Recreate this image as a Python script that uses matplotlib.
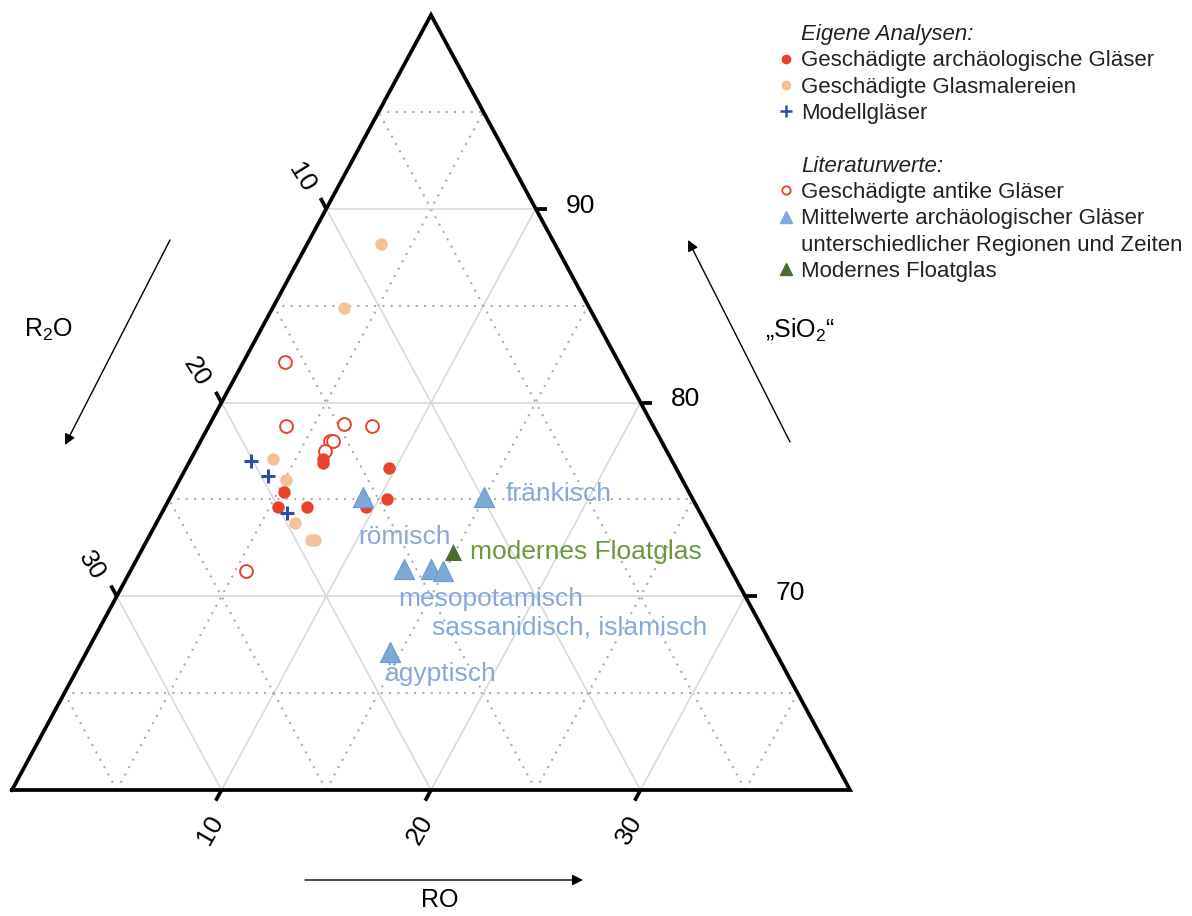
import numpy as np
import matplotlib
matplotlib.use("Agg")
import matplotlib.pyplot as plt
from matplotlib.lines import Line2D

plt.rcParams["font.family"] = ["Liberation Sans", "DejaVu Sans"]
plt.rcParams["mathtext.fontset"] = "custom"
plt.rcParams["mathtext.rm"] = "Liberation Sans"

# compositions in wt% (R2O = 100 - SiO2 - RO)
arch_sio2 = [77.1, 76.9, 76.6, 75.4, 74.6, 74.6, 74.6, 75.0]
arch_ro = [6.3, 6.4, 9.7, 5.3, 5.4, 6.8, 9.6, 10.4]

paint_sio2 = [88.2, 84.9, 77.1, 76.0, 73.8, 72.9, 72.9]
paint_ro = [3.5, 3.4, 3.9, 5.1, 6.6, 7.8, 8.0]

model_sio2 = [77.0, 76.2, 74.3]
model_ro = [2.9, 4.1, 6.0]

antik_sio2 = [82.1, 78.8, 78.9, 78.8, 78.0, 78.0, 77.5, 71.3]
antik_ro = [2.0, 3.7, 6.4, 7.8, 6.2, 6.3, 6.2, 5.5]

region_names = ["römisch", "fränkisch", "mesopotamisch",
                "sassanidisch, islamisch", "islamisch", "ägyptisch"]
region_sio2 = [75.1, 75.1, 71.4, 71.4, 71.3, 67.1]
region_ro = [9.2, 15.0, 13.0, 14.3, 14.9, 14.5]

float_sio2 = [72.3]
float_ro = [14.9]

ticks = [10, 20, 30]
sio2_ticks = [90, 80, 70]

RED = "#e8412c"
PEACH = "#f5c196"
BLUE = "#2d4e9e"
LBLUE = "#7ea8d8"
LBLUE_TXT = "#86a9db"
GREEN = "#4f6c2f"
GREEN_TXT = "#6c9a3a"


def tern(sio2, ro):
    # zoomed ternary: SiO2 60..100, RO and R2O 0..40
    h = np.asarray(sio2, float) - 60
    return np.asarray(ro, float) + h / 2, h


W, H = 1192, 916
fig = plt.figure(figsize=(W / 100, H / 100), dpi=100)
ax = fig.add_axes([0, 0, 1, 1])
ax.set_xlim(-12 * 40 / 838, (W - 12) * 40 / 838)
ax.set_ylim(-(H - 790) * 40 / 775, 790 * 40 / 775)
ax.axis("off")

# grid
for v in range(5, 40, 5):
    if v % 10 == 0:
        kw = dict(color="#d9d9d9", lw=1.2, ls="-")
    else:
        kw = dict(color="#adadad", lw=1.5, ls=(0, (1, 3)))
    for s, r in [((100 - v, 100 - v), (0, v)),
                 ((60, 100 - v), (v, v)),
                 ((60, 100 - v), (40 - v, 0))]:
        x, y = tern(s, r)
        ax.plot(x, y, zorder=1, **kw)

# frame
x, y = tern([60, 60, 100, 60], [0, 40, 0, 0])
ax.plot(x, y, color="black", lw=2.7, solid_joinstyle="miter", zorder=2)

L = 0.55
tk = dict(color="black", lw=2.7, solid_capstyle="butt", zorder=2)
for q in ticks:
    # R2O, left side
    x, y = tern([100 - q, 100 - q + L], [0, -L])
    ax.plot(x, y, **tk)
    ax.annotate(str(q), (x[0], y[0]), xytext=(-25, 31), textcoords="offset pixels",
                rotation=-58, ha="center", va="center", fontsize=19)
    # RO, bottom side
    x, y = tern([60, 60 - L], [q, q])
    ax.plot(x, y, **tk)
    ax.annotate(str(q), (x[0], y[0]), xytext=(-11, -40), textcoords="offset pixels",
                rotation=60, ha="center", va="center", fontsize=19)
for s in sio2_ticks:
    x, y = tern([s, s], [100 - s, 100 - s + L])
    ax.plot(x, y, **tk)
    ax.annotate(str(s), (x[0], y[0]), xytext=(45, 3), textcoords="offset pixels",
                ha="center", va="center", fontsize=19)

# data
x, y = tern(antik_sio2, antik_ro)
ax.scatter(x, y, s=85, facecolors="white", edgecolors=RED, linewidths=1.4, zorder=3)
x, y = tern(paint_sio2, paint_ro)
ax.scatter(x, y, s=80, color=PEACH, linewidths=0, zorder=3)
x, y = tern(arch_sio2, arch_ro)
ax.scatter(x, y, s=80, color=RED, linewidths=0, zorder=3)
x, y = tern(model_sio2, model_ro)
ax.scatter(x, y, s=110, marker="+", color=BLUE, linewidths=2.2, zorder=4)
rx, ry = tern(region_sio2, region_ro)
ax.scatter(rx, ry, s=210, marker="^", color=LBLUE, edgecolors="#6d99cf",
           linewidths=0.8, zorder=5)
fx_, fy_ = tern(float_sio2, float_ro)
ax.scatter(fx_, fy_, s=150, marker="^", color=GREEN, linewidths=0, zorder=5)

# region labels
offsets = {"römisch": (-5, -40), "fränkisch": (21, 3), "mesopotamisch": (-6, -30),
           "sassanidisch, islamisch": (1, -58), "ägyptisch": (-5, -22)}
for name, xi, yi in zip(region_names, rx, ry):
    if name in offsets:
        ax.annotate(name, (xi, yi), xytext=offsets[name], textcoords="offset pixels",
                    ha="left", va="center", fontsize=19, color=LBLUE_TXT)
ax.annotate("modernes Floatglas", (fx_[0], fy_[0]), xytext=(17, 0),
            textcoords="offset pixels", ha="left", va="center", fontsize=19,
            color=GREEN_TXT)


# axis titles and arrows (figure pixels, y from top)
def fp(px, py):
    return px / W, 1 - py / H


fig.text(*fp(48, 330), r"R$_\mathregular{2}$O", ha="center", va="center", fontsize=18)
fig.text(*fp(800, 330), r"„SiO$_\mathregular{2}$“", ha="center", va="center", fontsize=18)
fig.text(*fp(440, 900), "RO", ha="center", va="center", fontsize=18)
arrow = dict(arrowstyle="-|>", lw=1, color="black", mutation_scale=16, shrinkA=0, shrinkB=0)
for (x0, y0), (x1, y1) in [((170, 240), (65, 445)),
                           ((790, 442), (688, 240)),
                           ((305, 880), (583, 880))]:
    ax.annotate("", xy=fp(x1, y1), xytext=fp(x0, y0), xycoords="figure fraction",
                textcoords="figure fraction", arrowprops=arrow)

# legend
blank = Line2D([], [], ls="none")
handles = [
    blank,
    Line2D([], [], ls="none", marker="o", color=RED, markersize=6),
    Line2D([], [], ls="none", marker="o", color=PEACH, markersize=6),
    Line2D([], [], ls="none", marker="+", color=BLUE, markersize=8, mew=1.8),
    blank,
    blank,
    Line2D([], [], ls="none", marker="o", mfc="white", mec=RED, markersize=6, mew=1.3),
    Line2D([], [], ls="none", marker="^", color=LBLUE, markersize=8),
    blank,
    Line2D([], [], ls="none", marker="^", color=GREEN, markersize=8),
]
labels = [
    "Eigene Analysen:",
    "Geschädigte archäologische Gläser",
    "Geschädigte Glasmalereien",
    "Modellgläser",
    "",
    "Literaturwerte:",
    "Geschädigte antike Gläser",
    "Mittelwerte archäologischer Gläser",
    "unterschiedlicher Regionen und Zeiten",
    "Modernes Floatglas",
]
leg = fig.legend(handles, labels, loc="upper left", bbox_to_anchor=fp(779, 24),
                 frameon=False, fontsize=16, borderpad=0, borderaxespad=0,
                 labelspacing=0.24, handlelength=0.6, handletextpad=0.4)
texts = leg.get_texts()
for i in (0, 5):
    texts[i].set_style("italic")
for t in texts:
    t.set_color("#222222")

fig.savefig("out.png", dpi=100)
